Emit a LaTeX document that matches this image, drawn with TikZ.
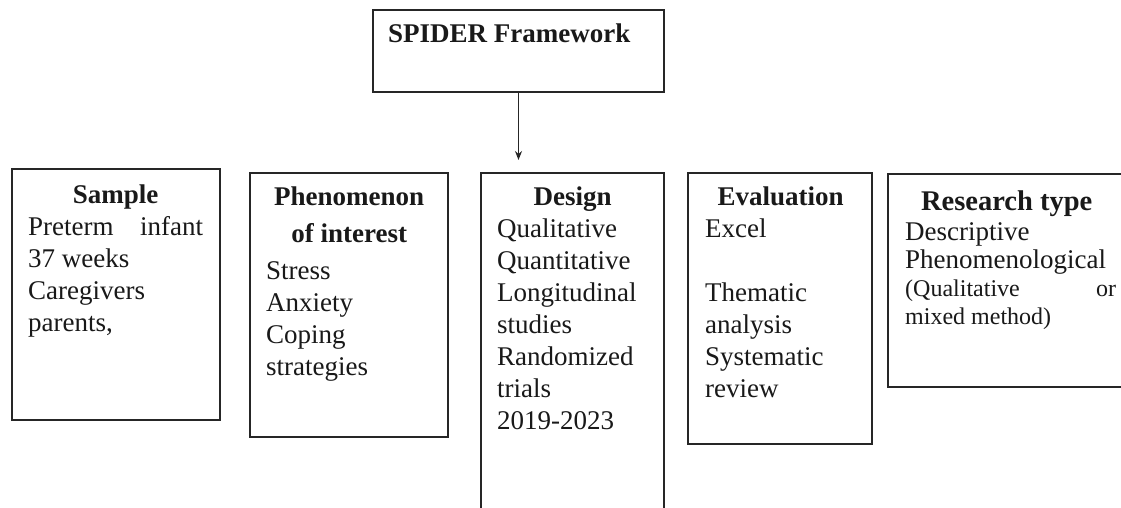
\documentclass[tikz,border=0pt]{standalone}
\usepackage{fontspec}
\setmainfont{Liberation Serif}
\usetikzlibrary{arrows.meta}
\tikzset{
  frame/.style={draw=black!85, line width=2.3pt, inner sep=0pt, outer sep=0pt, anchor=north west, fill=none},
  txt/.style={anchor=base west, inner sep=0pt, text=black!90},
  conn/.style={draw=black!85, line width=1.4pt, -{Stealth[length=9pt,width=7pt]}}
}
\newcommand{\bodyfont}{\fontsize{27}{32}\selectfont}
\begin{document}
\begin{tikzpicture}[x=1pt,y=-1pt]
\useasboundingbox (0,0) rectangle (1121,508);
\fill[white] (0,0) rectangle (1121,508);
% boxes
\node[frame, minimum width=291pt, minimum height=82pt] (top) at (373,10) {};
\node[frame, minimum width=208pt, minimum height=251pt] (sample) at (12,169) {};
\node[frame, minimum width=198pt, minimum height=264pt] (phen) at (250,173) {};
\node[frame, minimum width=183pt, minimum height=357pt] (design) at (481,173) {};
\node[frame, minimum width=184pt, minimum height=271pt] (eval) at (688,173) {};
\node[frame, minimum width=247pt, minimum height=213pt] (research) at (888,174) {};
% texts
\node[txt] (toptxt) at (388,43) {\bodyfont\bfseries SPIDER Framework};
\node[txt] (sampletxt) at (28,203) {\bodyfont\parbox[t]{175pt}{\centering\textbf{Sample}\par
  \raggedright\makebox[\linewidth][s]{Preterm infant}\\37 weeks\\Caregivers\\parents,}};
\node[txt] (phentxt) at (266,205) {\bodyfont\parbox[t]{166pt}{\centering\bfseries Phenomenon\\[5pt]of interest\par\vspace{5pt}
  \raggedright\mdseries Stress\\Anxiety\\Coping\\strategies}};
\node[txt] (designtxt) at (497,205) {\bodyfont\parbox[t]{151pt}{\centering\textbf{Design}\par
  \raggedright Qualitative\\Quantitative\\Longitudinal\\studies\\Randomized\\trials\\2019-2023}};
\node[txt] (evaltxt) at (705,205) {\bodyfont\parbox[t]{151pt}{\centering\textbf{Evaluation}\par
  \raggedright Excel\\[32pt]Thematic\\analysis\\Systematic\\review}};
\node[txt] (researchtxt) at (905,210) {\fontsize{27}{28}\selectfont\parbox[t]{203pt}{\centering{\fontsize{28.5}{28}\selectfont\bfseries Research type}\par\vspace{2pt}
  \raggedright Descriptive\\Phenomenological\par
  \fontsize{24}{28}\selectfont\makebox[211pt][s]{(Qualitative or}\\mixed method)}};
% connector
\path (top.south) ++(0,68) coordinate (arrowend);
\draw[conn] (top.south) -- (arrowend);
\end{tikzpicture}
\end{document}
